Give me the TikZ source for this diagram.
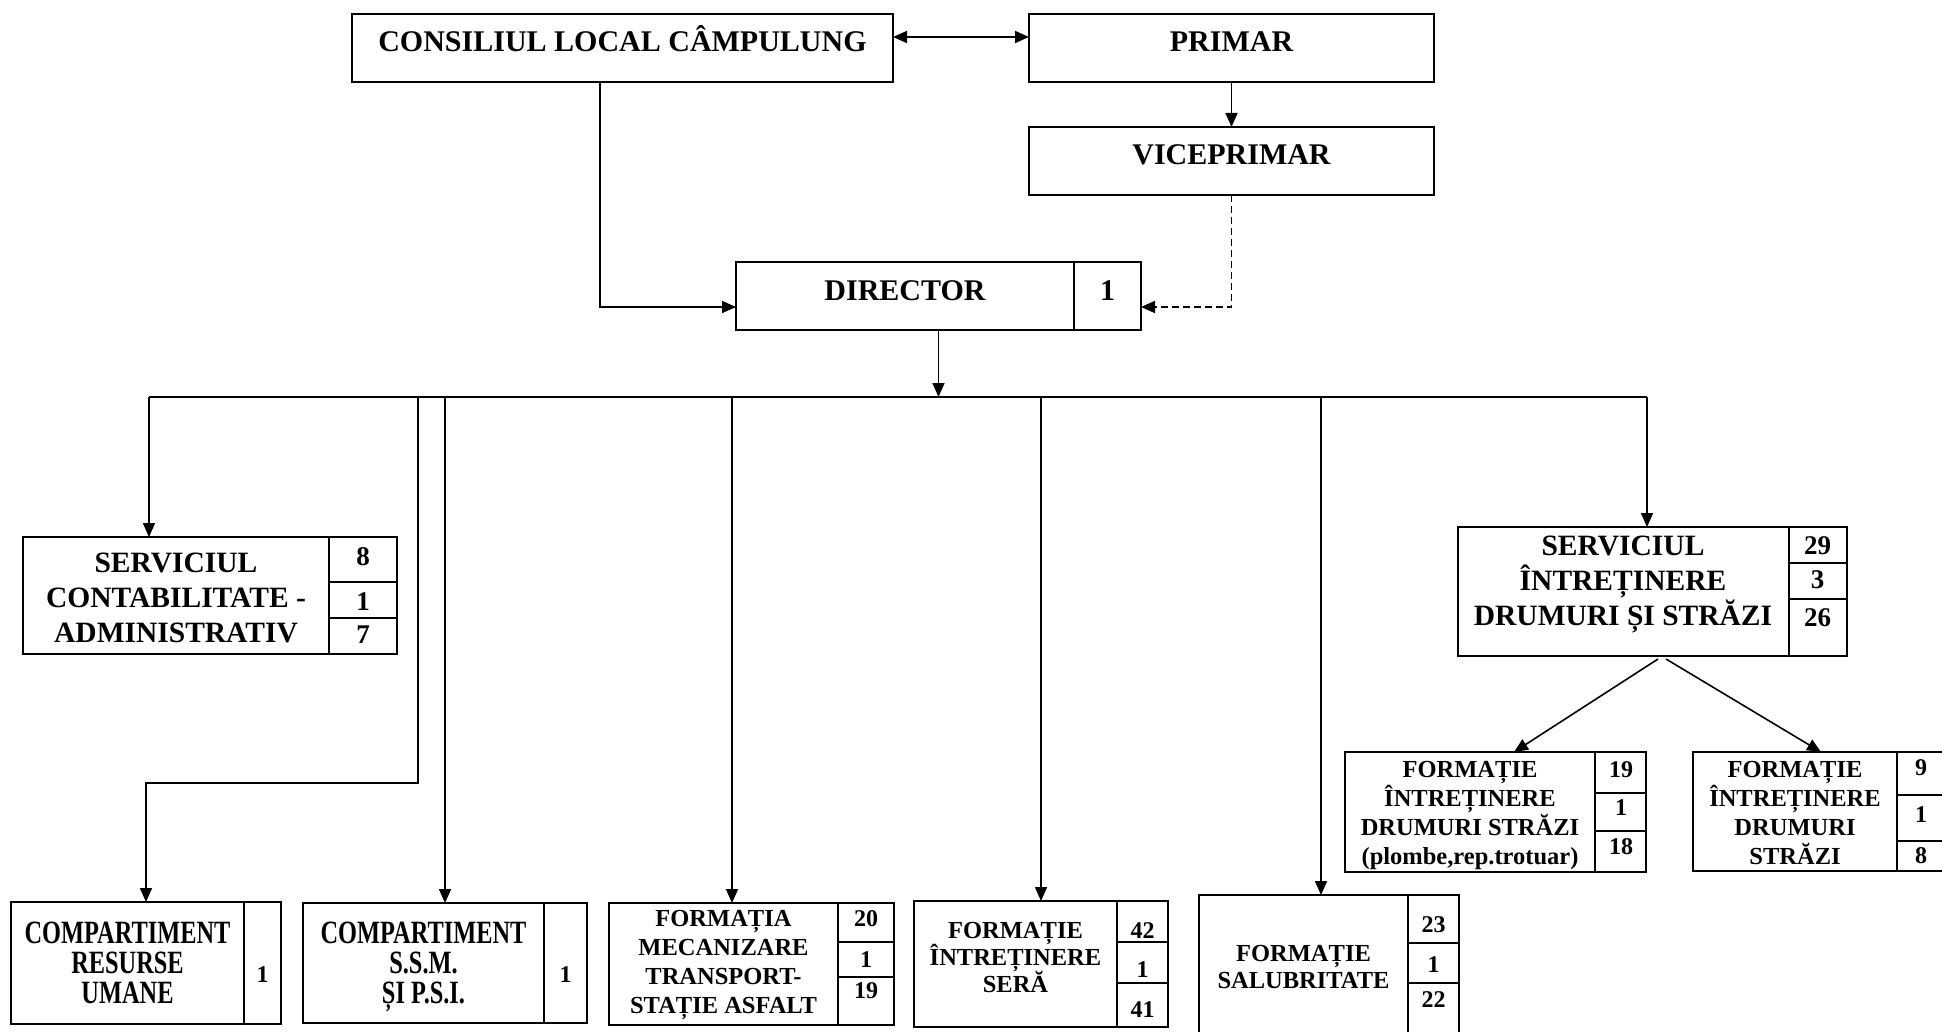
\documentclass[tikz,border=0pt]{standalone}
\usepackage{fontspec}
\setmainfont{Liberation Serif}
\newfontfamily\compfont{Liberation Serif}[FakeStretch=0.75]
\usetikzlibrary{arrows.meta}

\newcommand{\fnttop}{\fontsize{30}{33}\selectfont\bfseries}
\newcommand{\fntserv}{\fontsize{29.5}{35}\selectfont\bfseries\lineskiplimit=-40pt}
\newcommand{\fntcomp}{\compfont\fontsize{32.5}{30}\selectfont\bfseries\lineskiplimit=-40pt}
\newcommand{\fntform}[1]{\fontsize{24.5}{#1}\selectfont\bfseries\lineskiplimit=-40pt}
\newcommand{\fntnum}{\fontsize{24}{25}\selectfont\bfseries}
\newcommand{\fntbignum}{\fontsize{27}{28}\selectfont\bfseries}

\begin{document}
\begin{tikzpicture}
  [x=1pt,y=-1pt,
   box/.style={draw,line width=2.2pt,inner sep=0pt,outer sep=0pt},
   div/.style={line width=1.8pt},
   link/.style={line width=1.6pt,-{Triangle[length=14pt,width=12pt]}},
   txt/.style={inner sep=0pt,align=center,anchor=north},
   num/.style={inner sep=0pt,anchor=base,font=\fntnum},
   bignum/.style={num,font=\fntbignum}]

  \useasboundingbox (0,0) rectangle (1942,1032);
  \clip (0,0) rectangle (1942,1032);

  % top of the chart
  \node[box,minimum width=541pt,minimum height=68pt] (cons) at (622.5,48) {};
  \node[box,minimum width=405pt,minimum height=68pt] (primar) at (1231.5,48) {};
  \node[box,minimum width=405pt,minimum height=68pt] (vice) at (1231.5,161) {};
  \node[box,minimum width=405pt,minimum height=68pt] (dir) at (938.5,296) {};
  \draw[div] (1074,262) -- (1074,330);

  \node[txt,font=\fnttop,anchor=base] (cons-t) at (622.5,52) {CONSILIUL LOCAL CÂMPULUNG};
  \node[txt,font=\fnttop,anchor=base] (primar-t) at (1231.5,52) {PRIMAR};
  \node[txt,font=\fnttop,anchor=base] (vice-t) at (1231.5,165) {VICEPRIMAR};
  \node[txt,font=\fnttop,anchor=base] (dir-t) at (905,300) {DIRECTOR};
  \node[num,font=\fnttop] (dir-n) at (1107.5,300) {1};

  \draw[link,{Triangle[length=14pt,width=12pt]}-{Triangle[length=14pt,width=12pt]}]
    ([yshift=11pt]cons.east) -- ([yshift=11pt]primar.west);
  \draw[link] (primar.south) -- (vice.north);
  \draw[link] ([xshift=-22.5pt]cons.south) |- ([yshift=-11pt]dir.west);
  \draw[link,dash pattern=on 7pt off 4pt] (vice.south) |- ([yshift=-11pt]dir.east);

  % services
  \node[box,minimum width=374pt,minimum height=117pt] (contab) at (210,595.5) {};
  \draw[div] (329,537) -- (329,654) (329,582) -- (397,582) (329,618) -- (397,618);
  \node[txt,font=\fntserv] (contab-t) at (176,552.5) {SERVICIUL\\CONTABILITATE -\\ADMINISTRATIV};
  \node[bignum] (contab-n1) at (363,565) {8};
  \node[bignum] (contab-n2) at (363,610) {1};
  \node[bignum] (contab-n3) at (363,643) {7};

  \node[box,minimum width=389pt,minimum height=129pt] (sintr) at (1652.5,591.5) {};
  \draw[div] (1789,527) -- (1789,656) (1789,563) -- (1847,563) (1789,599) -- (1847,599);
  \node[txt,font=\fntserv] (sintr-t) at (1623,535.5) {SERVICIUL\\ÎNTREȚINERE\\DRUMURI ȘI STRĂZI};
  \node[bignum] (sintr-n1) at (1817.5,554) {29};
  \node[bignum] (sintr-n2) at (1817.5,588) {3};
  \node[bignum] (sintr-n3) at (1817.5,626) {26};

  \node[box,minimum width=301pt,minimum height=120pt] (form1) at (1495.5,812) {};
  \draw[div] (1595,752) -- (1595,872) (1595,793) -- (1646,793) (1595,831) -- (1646,831);
  \node[txt,font={\fntform{29}}] (form1-t) at (1470,761)
    {FORMAȚIE\\ÎNTREȚINERE\\DRUMURI STRĂZI\\(plombe,rep.trotuar)};
  \node[num] (form1-n1) at (1621,777) {19};
  \node[num] (form1-n2) at (1621,815) {1};
  \node[num] (form1-n3) at (1621,854) {18};

  \node[box,minimum width=267pt,minimum height=119pt] (form2) at (1826.5,811.5) {};
  \draw[div] (1897,752) -- (1897,871) (1897,795) -- (1960,795) (1897,841) -- (1960,841);
  \node[txt,font={\fntform{29}}] (form2-t) at (1795,761) {FORMAȚIE\\ÎNTREȚINERE\\DRUMURI\\STRĂZI};
  \node[num] (form2-n1) at (1921,775) {9};
  \node[num] (form2-n2) at (1921,822) {1};
  \node[num] (form2-n3) at (1921,863) {8};

  % bottom row
  \node[box,minimum width=270pt,minimum height=122pt] (resurse) at (146,963) {};
  \draw[div] (244,902) -- (244,1024);
  \node[txt,font=\fntcomp] (resurse-t) at (127.5,921.5) {COMPARTIMENT\\RESURSE\\UMANE};
  \node[num] (resurse-n) at (262.5,982) {1};

  \node[box,minimum width=284pt,minimum height=120pt] (ssm) at (445,963) {};
  \draw[div] (544,903) -- (544,1023);
  \node[txt,font=\fntcomp] (ssm-t) at (423.5,921.5) {COMPARTIMENT\\S.S.M.\\ȘI P.S.I.};
  \node[num] (ssm-n) at (565.5,982) {1};

  \node[box,minimum width=285pt,minimum height=122pt] (mec) at (751.5,964) {};
  \draw[div] (838,903) -- (838,1025) (838,942) -- (894,942) (838,977) -- (894,977);
  \node[txt,font={\fntform{29}}] (mec-t) at (723.5,910)
    {FORMAȚIA\\MECANIZARE\\TRANSPORT-\\STAȚIE ASFALT};
  \node[num] (mec-n1) at (866,926) {20};
  \node[num] (mec-n2) at (866,967) {1};
  \node[num] (mec-n3) at (866,998) {19};

  \node[box,minimum width=254pt,minimum height=126pt] (sera) at (1041,964) {};
  \draw[div] (1117,901) -- (1117,1027) (1117,942) -- (1168,942) (1117,983) -- (1168,983);
  \node[txt,font={\fntform{27}}] (sera-t) at (1015.5,922) {FORMAȚIE\\ÎNTREȚINERE\\SERĂ};
  \node[num] (sera-n1) at (1142.5,938) {42};
  \node[num] (sera-n2) at (1142.5,977) {1};
  \node[num] (sera-n3) at (1142.5,1017) {41};

  \node[box,minimum width=260pt,minimum height=165pt] (salub) at (1329,977.5) {};
  \draw[div] (1408,895) -- (1408,1060) (1408,943) -- (1459,943) (1408,983) -- (1459,983);
  \node[txt,font={\fntform{27}}] (salub-t) at (1303.5,945) {FORMAȚIE\\SALUBRITATE};
  \node[num] (salub-n1) at (1433.5,932) {23};
  \node[num] (salub-n2) at (1433.5,972) {1};
  \node[num] (salub-n3) at (1433.5,1007) {22};

  % links from the director
  \coordinate (bus) at (938.5,397);
  \coordinate (busL) at (149,397);
  \coordinate (busR) at (1647,397);
  \coordinate (tapR) at (418,397);
  \coordinate (tapM) at (732,397);
  \coordinate (tapS) at (1321,397);
  \draw[link] (dir.south) -- (bus);
  \draw[line width=1.6pt] (busL) -- (busR);
  \draw[link] (busL) -- (busL |- contab.north);
  \draw[link] (tapR) -- ++(0,386) -| (resurse.north);
  \draw[link] (ssm.north |- bus) -- (ssm.north);
  \draw[link] (tapM) -- (tapM |- mec.north);
  \draw[link] (sera.north |- bus) -- (sera.north);
  \draw[link] (tapS) -- (tapS |- salub.north);
  \draw[link] (busR) -- (busR |- sintr.north);
  \draw[link] ([xshift=5.5pt,yshift=-3pt]sintr.south) -- ([xshift=18.5pt]form1.north);
  \draw[link] ([xshift=13.5pt,yshift=-3pt]sintr.south) -- ([xshift=-5.5pt]form2.north);

\end{tikzpicture}
\end{document}
